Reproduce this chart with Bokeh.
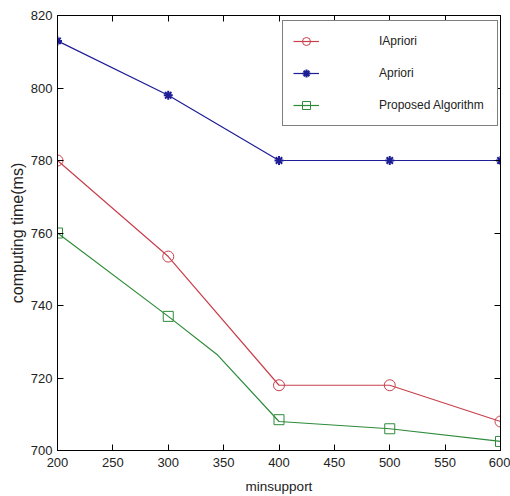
from bokeh.plotting import figure
from bokeh.models import (Range1d, LinearAxis, FixedTicker, Legend, LegendItem,
                          ColumnDataSource)
from bokeh.embed import file_html
from bokeh.resources import INLINE

# ---- data ----
minsupport = [200, 300, 400, 500, 600]
iapriori = [780, 753.5, 718, 718, 708]
apriori = [813, 798, 780, 780, 780]
proposed = [760, 737, 708.5, 706, 702.5]
# the proposed-algorithm line has a bend between 300 and 400 without a marker
proposed_line_x = [200, 300, 344, 400, 500, 600]
proposed_line_y = [760, 737, 726.5, 708, 706, 702.5]

x_ticks = [200, 250, 300, 350, 400, 450, 500, 550, 600]
y_ticks = [700, 720, 740, 760, 780, 800, 820]

series_names = ["IApriori", "Apriori", "Proposed Algorithm"]

RED = "#c8404c"
BLUE = "#1e1e96"
GREEN = "#2e8b3a"
FONT = "Liberation Sans"

p = figure(width=510, height=496, output_backend="svg", toolbar_location=None,
           x_range=Range1d(200, 600), y_range=Range1d(700, 820),
           x_axis_location=None, y_axis_location=None,
           min_border_left=57, min_border_right=10, min_border_top=15,
           min_border_bottom=44)
p.grid.visible = False
p.outline_line_color = "black"
p.outline_line_width = 1

bottom = LinearAxis(ticker=FixedTicker(ticks=x_ticks), axis_label="minsupport")
left = LinearAxis(ticker=FixedTicker(ticks=y_ticks), axis_label="computing time(ms)")
top = LinearAxis(ticker=FixedTicker(ticks=x_ticks),
                 major_label_overrides={t: "" for t in x_ticks})
right = LinearAxis(ticker=FixedTicker(ticks=y_ticks),
                   major_label_overrides={t: "" for t in y_ticks})
p.add_layout(bottom, "below")
p.add_layout(left, "left")
p.add_layout(top, "above")
p.add_layout(right, "right")

for ax in [bottom, left, top, right]:
    ax.major_tick_in = 6
    ax.major_tick_out = 0
    ax.minor_tick_in = 0
    ax.minor_tick_out = 0
    ax.axis_line_color = "black"
    ax.major_tick_line_color = "black"
    ax.major_label_text_font = FONT
    ax.major_label_text_color = "#222222"
    ax.major_label_text_font_size = "13px"
    ax.axis_label_text_font = FONT
    ax.axis_label_text_font_style = "normal"
    ax.axis_label_text_color = "#222222"

bottom.axis_label_text_font_size = "13.5px"
left.axis_label_text_font_size = "16px"
bottom.major_label_standoff = 7
left.major_label_standoff = 5
bottom.axis_label_standoff = 9
left.axis_label_standoff = 2
top.major_label_standoff = 0
right.major_label_standoff = 0

src_i = ColumnDataSource(dict(x=minsupport, y=iapriori))
src_a = ColumnDataSource(dict(x=minsupport, y=apriori))
src_p = ColumnDataSource(dict(x=minsupport, y=proposed))
src_pl = ColumnDataSource(dict(x=proposed_line_x, y=proposed_line_y))

li = p.line("x", "y", source=src_i, line_color=RED, line_width=1.2)
mi = p.scatter("x", "y", source=src_i, marker="circle", size=11,
               fill_color=None, line_color=RED, line_width=1)
la = p.line("x", "y", source=src_a, line_color=BLUE, line_width=1.2)
ma = p.scatter("x", "y", source=src_a, marker="asterisk", size=9,
               line_color=BLUE, line_width=2)
lp = p.line("x", "y", source=src_pl, line_color=GREEN, line_width=1.2)
mp = p.scatter("x", "y", source=src_p, marker="square", size=10,
               fill_color=None, line_color=GREEN, line_width=1)

legend = Legend(items=[
    LegendItem(label=series_names[0], renderers=[li, mi]),
    LegendItem(label=series_names[1], renderers=[la, ma]),
    LegendItem(label=series_names[2], renderers=[lp, mp]),
], location=(225, 324))
legend.margin = 0
legend.padding = 10
legend.spacing = 12
legend.glyph_width = 26
legend.glyph_height = 20
legend.label_height = 20
legend.label_width = 108
legend.label_standoff = 60
legend.label_text_font = FONT
legend.label_text_font_size = "12px"
legend.label_text_color = "#222222"
legend.border_line_color = "black"
legend.border_line_width = 1
legend.background_fill_color = "white"
legend.background_fill_alpha = 1
p.add_layout(legend, "center")

open("out.html", "w").write(file_html(p, INLINE))
